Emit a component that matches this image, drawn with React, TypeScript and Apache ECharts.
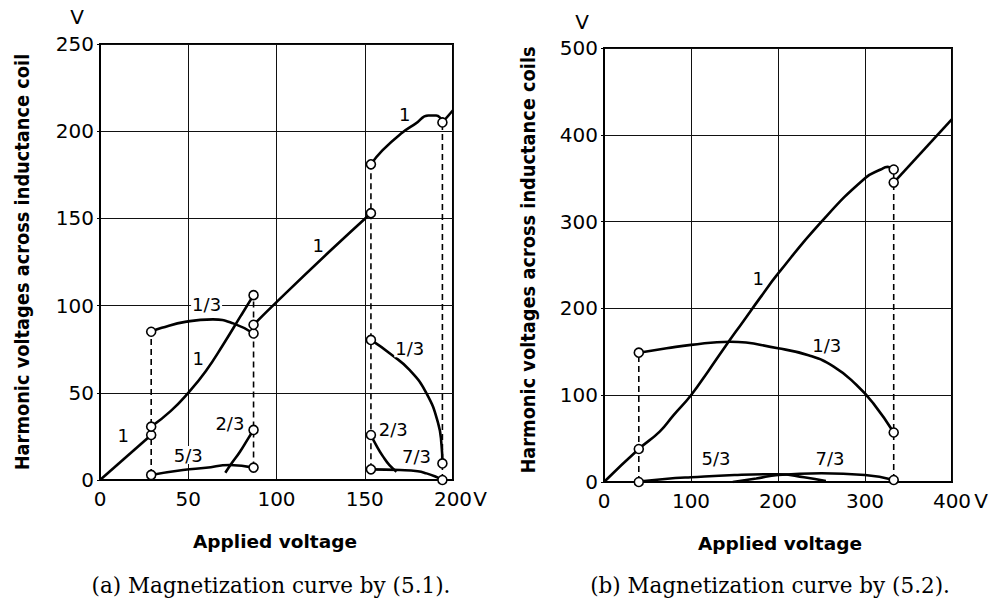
import React, { useEffect, useRef } from "react";
import * as echarts from "echarts";

// ---------- Chart (a) data: Magnetization curve by (5.1) ----------
const A_X_TICKS = [0, 50, 100, 150, 200];
const A_Y_TICKS = [0, 50, 100, 150, 200, 250];
const A_FUND_1 = [[0, 0], [29, 25.8]];
const A_FUND_2 = [[29, 30.6], [40, 39.5], [50, 50], [60, 62.5], [70, 78], [80, 94.5], [87, 106]];
const A_FUND_3 = [[87, 89], [100, 102], [130, 131], [153.5, 153]];
const A_FUND_4 = [[153.5, 181], [160, 189], [171, 199], [179, 204.5], [186, 209], [190.5, 209], [194, 205]];
const A_FUND_5 = [[194, 205], [200, 212]];
const A_SUB13_L = [[29, 85], [35, 87.3], [49, 90.8], [64, 92.1], [75.5, 89.8], [87, 84]];
const A_H53 = [[29, 2.9], [47, 5.7], [60, 7], [73.6, 8.6], [87, 7.1]];
const A_H23_L = [[71, 4.2], [74.6, 9.6], [79.3, 16.2], [84, 23.9], [87, 28.7]];
const A_SUB13_R = [[153.5, 80.3], [165, 72], [175.5, 63], [185, 49.7], [191.6, 32.5], [193.5, 20], [194, 9.5]];
const A_H23_R = [[153.5, 25.8], [157, 19], [160.4, 13.4], [164, 8.5], [168, 4.8]];
const A_H73 = [[153.5, 6.1], [170, 5.7], [180, 5], [185, 3.8], [190, 2], [194, 0]];
const A_MARKERS = [
  [29, 2.9], [29, 25.8], [29, 30.6], [29, 85],
  [87, 7.1], [87, 28.7], [87, 84], [87, 89], [87, 106],
  [153.5, 6.1], [153.5, 25.8], [153.5, 80.3], [153.5, 153], [153.5, 181],
  [194, 0], [194, 9.5], [194, 205],
];
const A_DASHED = [[29, 2.9, 85], [87, 7.1, 106], [153.5, 6.1, 181], [194, 0, 205]];
const A_LABELS: [string, number, number][] = [
  ["1", 13.2, 25.8], ["5/3", 50, 14.3], ["2/3", 73.6, 32.5], ["1", 55.7, 69.8],
  ["1/3", 60.4, 100.9], ["1", 123.6, 134.7], ["1", 172.7, 209.3],
  ["1/3", 175.5, 75.5], ["2/3", 166.1, 28.7], ["7/3", 179.3, 13.4],
];

// ---------- Chart (b) data: Magnetization curve by (5.2) ----------
const B_X_TICKS = [0, 100, 200, 300, 400];
const B_Y_TICKS = [0, 100, 200, 300, 400, 500];
const B_FUND_1 = [[0, 0], [40, 38], [64, 58], [80, 77], [100, 100], [120, 128], [140, 157], [160, 185], [180, 213], [200, 240], [250, 300], [300, 350], [318, 360], [326, 363], [333, 360]];
const B_FUND_2 = [[333, 345], [400, 418]];
const B_SUB13 = [[40, 149], [72, 154], [100, 158], [145, 161.6], [200, 154], [235, 146], [264, 133], [290, 112], [310, 90], [333, 57]];
const B_H53 = [[40, 0.5], [70, 3.5], [100, 5.5], [150, 8], [200, 9], [230, 5.5], [255, 1]];
const B_H73 = [[148, 0], [175, 4], [200, 8], [250, 10], [300, 8], [333, 2.3]];
const B_MARKERS = [[40, 0], [40, 38], [40, 149], [333, 2.3], [333, 57], [333, 345], [333, 360]];
const B_DASHED = [[40, 0, 149], [333, 2.3, 360]];
const B_LABELS: [string, number, number][] = [
  ["1", 177.4, 234.7], ["1/3", 256, 157.8], ["5/3", 128.7, 27.3], ["7/3", 259.8, 27.3],
];

const SANS = "DejaVu Sans";

function curve(data: number[][], g: number, smooth = true) {
  return {
    type: "line",
    xAxisIndex: g,
    yAxisIndex: g,
    data,
    smooth: smooth ? 0.5 : false,
    showSymbol: false,
    symbol: "none",
    lineStyle: { color: "#000", width: 2.6 },
    z: 3,
    silent: true,
  };
}

function dashed(d: number[], g: number) {
  return {
    type: "line",
    xAxisIndex: g,
    yAxisIndex: g,
    data: [[d[0], d[1]], [d[0], d[2]]],
    showSymbol: false,
    symbol: "none",
    lineStyle: { color: "#000", width: 1.6, type: [6, 4] },
    z: 2,
    silent: true,
  };
}

function markers(data: number[][], g: number) {
  return {
    type: "scatter",
    xAxisIndex: g,
    yAxisIndex: g,
    data,
    symbol: "circle",
    symbolSize: 9,
    itemStyle: { color: "#fff", borderColor: "#000", borderWidth: 1.6, opacity: 1 },
    z: 5,
    silent: true,
  };
}

function labels(data: [string, number, number][], g: number) {
  return {
    type: "scatter",
    xAxisIndex: g,
    yAxisIndex: g,
    data: data.map((l) => ({ name: l[0], value: [l[1], l[2]] })),
    symbolSize: 0,
    itemStyle: { opacity: 1 },
    label: {
      show: true,
      position: "inside",
      formatter: "{b}",
      color: "#000",
      fontSize: 18,
      fontFamily: SANS,
      backgroundColor: "#fff",
      padding: [0, 1],
    },
    z: 4,
    silent: true,
  };
}

function xAxis(g: number, ticks: number[]) {
  return {
    type: "value",
    gridIndex: g,
    min: ticks[0],
    max: ticks[ticks.length - 1],
    interval: ticks[1] - ticks[0],
    axisLine: { show: true, lineStyle: { color: "#000", width: 2 } },
    axisTick: { show: false },
    axisLabel: { color: "#000", fontSize: 20, fontFamily: SANS, margin: 9 },
    splitLine: { show: true, lineStyle: { color: "#111", width: 1 } },
  };
}

function yAxis(g: number, ticks: number[]) {
  return {
    type: "value",
    gridIndex: g,
    min: ticks[0],
    max: ticks[ticks.length - 1],
    interval: ticks[1] - ticks[0],
    axisLine: { show: true, lineStyle: { color: "#000", width: 2 } },
    axisTick: { show: true, length: 3, lineStyle: { color: "#000" } },
    axisLabel: { color: "#000", fontSize: 20, fontFamily: SANS, margin: 6 },
    splitLine: { show: true, lineStyle: { color: "#111", width: 1 } },
  };
}

function txt(text: string, x: number, y: number, size: number, opts: any = {}) {
  return {
    type: "text",
    x,
    y,
    rotation: opts.rotation || 0,
    scaleY: opts.scaleY || 1,
    style: {
      text,
      fontSize: size,
      fontFamily: opts.family || SANS,
      fontWeight: opts.weight || "normal",
      fill: "#000",
      textAlign: "center",
      textVerticalAlign: "middle",
    },
    silent: true,
  };
}

export default function App() {
  const ref = useRef<HTMLDivElement>(null);
  useEffect(() => {
    if (!ref.current) return;
    const chart = echarts.init(ref.current, undefined, { renderer: "svg" });
    const series: any[] = [];
    [A_FUND_1, A_FUND_5].forEach((d) => series.push(curve(d, 0, false)));
    [A_FUND_2, A_FUND_3, A_FUND_4, A_SUB13_L, A_H53, A_H23_L, A_SUB13_R, A_H23_R, A_H73].forEach((d) =>
      series.push(curve(d, 0))
    );
    A_DASHED.forEach((d) => series.push(dashed(d, 0)));
    series.push(markers(A_MARKERS, 0));
    series.push(labels(A_LABELS, 0));
    series.push(curve(B_FUND_2, 1, false));
    [B_FUND_1, B_SUB13, B_H53, B_H73].forEach((d) => series.push(curve(d, 1)));
    B_DASHED.forEach((d) => series.push(dashed(d, 1)));
    series.push(markers(B_MARKERS, 1));
    series.push(labels(B_LABELS, 1));

    chart.setOption({
      animation: false,
      backgroundColor: "#fff",
      grid: [
        { left: 100, top: 44, width: 353, height: 436, show: true, borderColor: "#000", borderWidth: 2, backgroundColor: "transparent" },
        { left: 604, top: 48, width: 348, height: 434, show: true, borderColor: "#000", borderWidth: 2, backgroundColor: "transparent" },
      ],
      xAxis: [xAxis(0, A_X_TICKS), xAxis(1, B_X_TICKS)],
      yAxis: [yAxis(0, A_Y_TICKS), yAxis(1, B_Y_TICKS)],
      series,
      graphic: [
        txt("V", 77, 17, 20),
        txt("V", 480, 499, 20),
        txt("V", 582, 22, 20),
        txt("V", 981, 501, 20),
        txt("Harmonic voltages across inductance coil", 22, 262, 17.8, { weight: "bold", rotation: Math.PI / 2, scaleY: 1.1 }),
        txt("Harmonic voltages across inductance coils", 528, 260, 17.8, { weight: "bold", rotation: Math.PI / 2, scaleY: 1.1 }),
        txt("Applied voltage", 275, 541, 18.5, { weight: "bold" }),
        txt("Applied voltage", 780, 543, 18.5, { weight: "bold" }),
        txt("(a) Magnetization curve by (5.1).", 271, 585, 21.5, { family: "DejaVu Serif" }),
        txt("(b) Magnetization curve by (5.2).", 770, 585, 21.5, { family: "DejaVu Serif" }),
      ],
    });
    return () => chart.dispose();
  }, []);
  return (
    <div
      ref={ref}
      style={{ position: "fixed", left: 0, top: 0, width: 994, height: 601, background: "#fff" }}
    />
  );
}
